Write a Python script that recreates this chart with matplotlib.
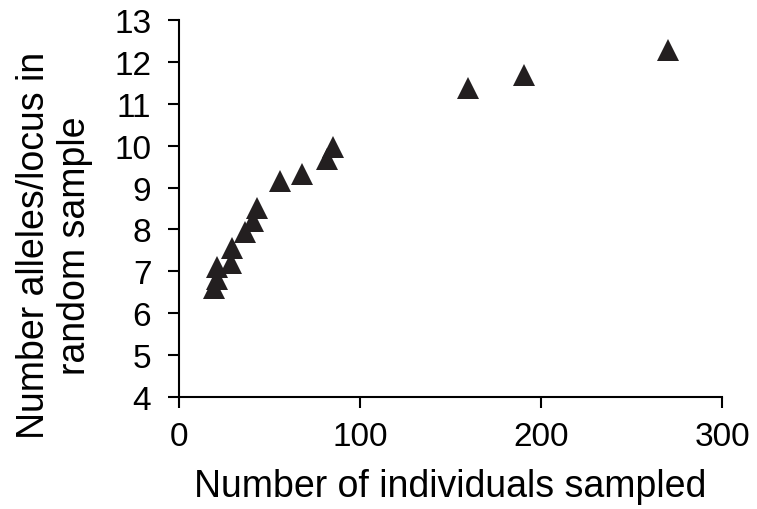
import matplotlib
matplotlib.use("Agg")
import matplotlib.pyplot as plt

plt.rcParams['font.family'] = ['Liberation Sans', 'DejaVu Sans']

# individuals sampled vs. alleles per locus
n_sampled = [19.2, 21.2, 21.0, 28.5, 29.2, 36.6, 40.6, 42.9, 55.6, 68.0, 82.0, 85.0, 159.5, 190.6, 270.3]
n_alleles = [6.60, 6.82, 7.11, 7.21, 7.56, 7.93, 8.21, 8.51, 9.16, 9.33, 9.67, 9.96, 11.38, 11.69, 12.28]

fig = plt.figure(figsize=(7.57, 5.10), dpi=100)
ax = fig.add_axes([0.2365, 0.2196, 0.7173, 0.7392])

ax.plot(n_sampled, n_alleles, linestyle='none', marker='^', markersize=16,
        color='#231f20', markeredgewidth=0)

ax.set_xlim(0, 300)
ax.set_ylim(4, 13)
ax.set_xticks([0, 100, 200, 300])
ax.set_yticks(range(4, 14))

for s in ['top', 'right']:
    ax.spines[s].set_visible(False)
for s in ['left', 'bottom']:
    ax.spines[s].set_linewidth(1.5)
    ax.spines[s].set_color('black')

ax.tick_params(direction='out', length=8, width=1.5, labelsize=24)
ax.tick_params(axis='y', pad=12)
ax.tick_params(axis='x', pad=9)
ax.set_xlabel('Number of individuals sampled', fontsize=27, labelpad=12)
ax.set_ylabel('Number alleles/locus in\nrandom sample', fontsize=27,
              linespacing=1.2)
ax.yaxis.set_label_coords(-0.158, 0.405)

fig.savefig('out.png', dpi=100)
